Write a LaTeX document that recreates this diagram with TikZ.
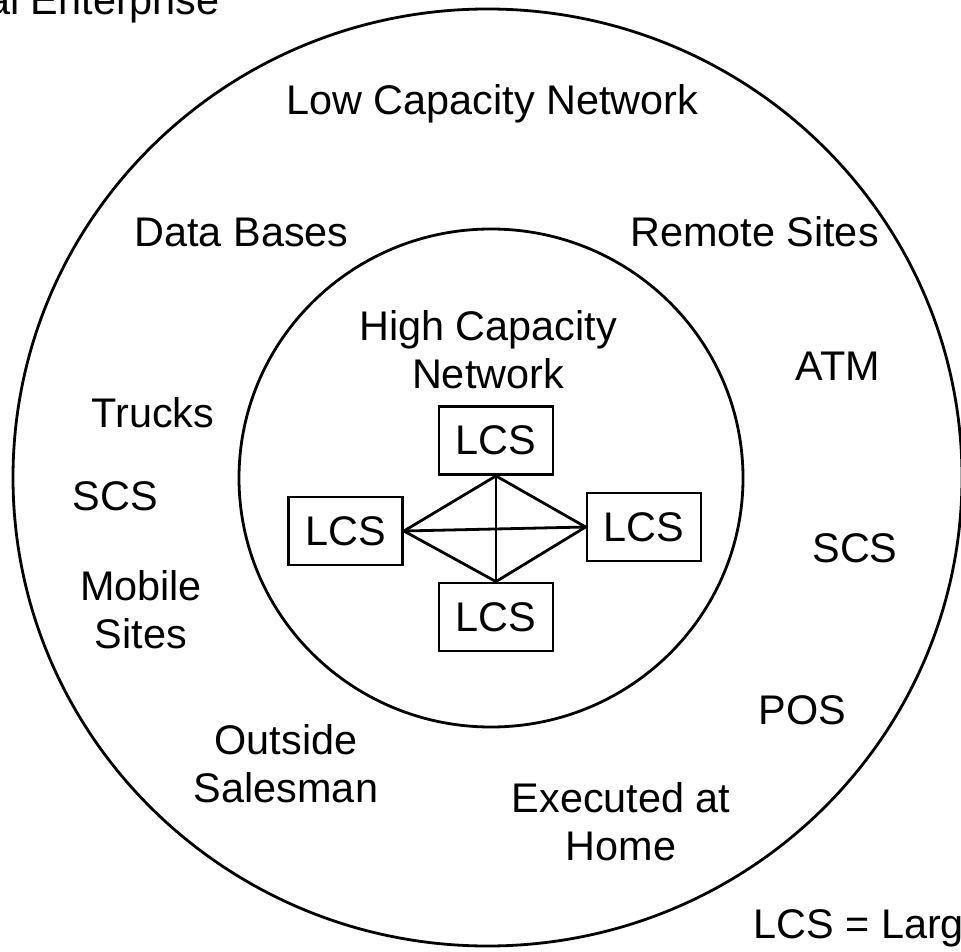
\documentclass[tikz,border=0pt]{standalone}
\usepackage{fontspec}
\setmainfont{Liberation Sans}
\usepackage{tikz}
\usetikzlibrary{calc}

\begin{document}
\begin{tikzpicture}[x=0.5pt,y=-0.5pt]

    \tikzset{ST/.style={draw=black,solid,line width=1.4pt}}
    \tikzset{BX/.style={draw=black,line width=1.4pt,inner sep=0mm,minimum width=57pt,minimum height=34pt,font=\fontsize{20.7}{24}\selectfont}}
    \tikzset{TX/.style={inner sep=0mm,anchor=base,align=center,font=\fontsize{20.7}{24}\selectfont}}

    \useasboundingbox (0,0) rectangle (961,951);

    % rings
    \coordinate (oc) at (487.5,477.5);
    \coordinate (ic) at (491,478);
    \draw[ST] (oc) ellipse [x radius=237.25pt, y radius=234.25pt];
    \draw[ST] (ic) ellipse [x radius=126pt, y radius=124.5pt];

    % outer ring labels (two-line ones sit on their last line)
    \node (ent) [TX,anchor=base east] at (220,15) {al Enterprise};
    \node (low) [TX] at (492.5,115) {Low Capacity Network};
    \node (db) [TX] at (241.5,247) {Data Bases};
    \node (rem) [TX] at (754.5,247) {Remote Sites};
    \node (atm) [TX] at (838,380) {ATM};
    \node (trk) [TX] at (153,427) {Trucks};
    \node (scsl) [TX] at (115.5,510) {SCS};
    \node (scsr) [TX] at (855,562) {SCS};
    \node (mob) [TX] at (141,648) {Mobile\\Sites};
    \node (pos) [TX] at (802.5,724) {POS};
    \node (out) [TX] at (286,802) {Outside\\Salesman};
    \node (home) [TX] at (621,860) {Executed at\\Home};
    \node (key) [TX,anchor=base west] at (753,938) {LCS = Larg};

    % inner ring
    \node (high) [TX] at (488,388) {High Capacity\\Network};
    	\node (t) [BX] at (496,440.5) {LCS};
    	\node (l) [BX] at (345.5,531) {LCS};
    	\node (r) [BX] at (644,527) {LCS};
    	\node (b) [BX] at (496,617) {LCS};

    \path[ST] (t.south) -- (l.east);
    \path[ST] (t.south) -- (r.west);
    \path[ST] (t.south) -- (b.north);
    \path[ST] (l.east) -- (r.west);
    \path[ST] (l.east) -- (b.north);
    \path[ST] (r.west) -- (b.north);
\end{tikzpicture}
\end{document}
